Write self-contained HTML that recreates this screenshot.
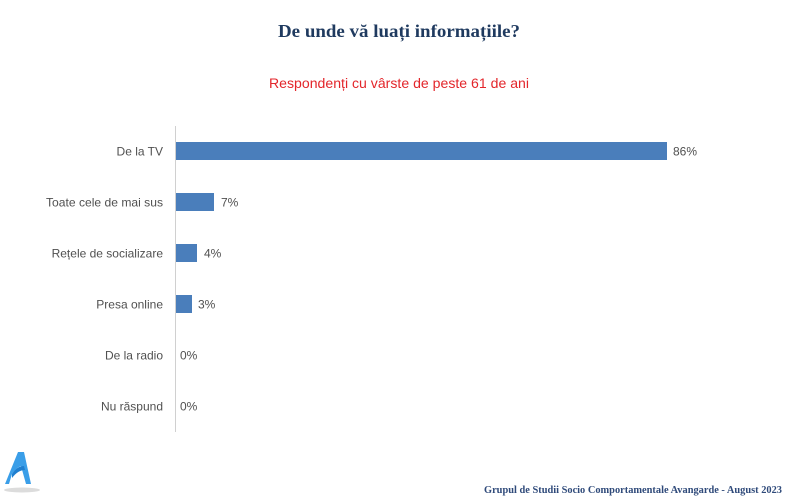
<!DOCTYPE html>
<html>
<head>
<meta charset="utf-8">
<style>
html,body{margin:0;padding:0;background:#fff;}
svg{display:block;}
</style>
</head>
<body>
<svg width="800" height="497" viewBox="0 0 800 497" xmlns="http://www.w3.org/2000/svg">
  <rect width="800" height="497" fill="#ffffff"/>
  <!-- Title -->
  <text x="399" y="37" text-anchor="middle" font-family="Liberation Serif, serif" font-weight="bold" font-size="18" fill="#1f3a5f" textLength="242" lengthAdjust="spacingAndGlyphs">De unde vă luați informațiile?</text>
  <!-- Subtitle -->
  <text x="399" y="88" text-anchor="middle" font-family="Liberation Sans, sans-serif" font-size="14" fill="#e3262b" textLength="260" lengthAdjust="spacingAndGlyphs">Respondenți cu vârste de peste 61 de ani</text>

  <!-- Axis -->
  <line x1="175.5" y1="126" x2="175.5" y2="432" stroke="#d0d0d0" stroke-width="1"/>

  <!-- Bars -->
  <g fill="#4a7ebb">
    <rect x="176" y="142" width="491" height="18"/>
    <rect x="176" y="193" width="38" height="18"/>
    <rect x="176" y="244" width="21" height="18"/>
    <rect x="176" y="295" width="16" height="18"/>
  </g>

  <!-- Category labels -->
  <g font-family="Liberation Sans, sans-serif" font-size="12" fill="#505050" text-anchor="end">
    <text x="163" y="155.5">De la TV</text>
    <text x="163" y="206.5" textLength="117" lengthAdjust="spacingAndGlyphs">Toate cele de mai sus</text>
    <text x="163" y="257.5">Rețele de socializare</text>
    <text x="163" y="308.5">Presa online</text>
    <text x="163" y="359.5">De la radio</text>
    <text x="163" y="410.5">Nu răspund</text>
  </g>

  <!-- Value labels -->
  <g font-family="Liberation Sans, sans-serif" font-size="12" fill="#505050">
    <text x="673" y="155.5">86%</text>
    <text x="221" y="206.5">7%</text>
    <text x="204" y="257.5">4%</text>
    <text x="198" y="308.5">3%</text>
    <text x="180" y="359.5">0%</text>
    <text x="180" y="410.5">0%</text>
  </g>

  <!-- Logo -->
  <ellipse cx="22" cy="490" rx="18" ry="2.5" fill="#dcdcdc"/>
  <path d="M18 452 L24 452 L31 484 L26 484 L21 466 Q16 468 12 474 L9 484 L5 484 Z" fill="#3a9ee8"/>
  <path d="M12 474 Q17 466 24 466 L25 470 Q18 470 12 478 Z" fill="#1f7fd0"/>

  <!-- Footer -->
  <text x="484" y="493" font-family="Liberation Serif, serif" font-weight="bold" font-size="10" fill="#2f4a7a" textLength="298" lengthAdjust="spacingAndGlyphs">Grupul de Studii Socio Comportamentale Avangarde   -  August 2023</text>
</svg>
</body>
</html>
